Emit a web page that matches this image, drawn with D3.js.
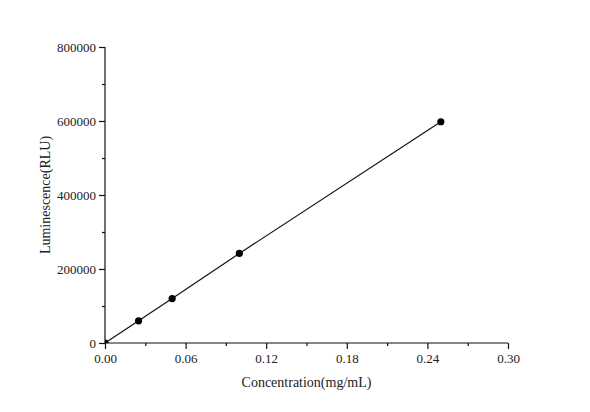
<!DOCTYPE html>
<html>
<head>
<meta charset="utf-8">
<script src="https://cdn.jsdelivr.net/npm/d3@7"></script>
<style>
  body { margin:0; background:#fff; }
  svg text { font-family:"Liberation Serif","Times New Roman",serif; fill:#222; }
</style>
</head>
<body>
<div id="chart"></div>
<script>
// standard curve data
var concentration = [0, 0.025, 0.05, 0.1, 0.25]
var luminescence = [0, 60000, 120000, 242000, 598000]
var xTicks = [0, 0.06, 0.12, 0.18, 0.24, 0.30]
var yTicks = [0, 200000, 400000, 600000, 800000]

var width = 590, height = 412
var margin = {top:47, right:82, bottom:69, left:105}

var svg = d3.select('#chart').append('svg')
	.attr('width', width).attr('height', height)

var x = d3.scaleLinear().domain([0, 0.30]).range([margin.left, width - margin.right])
var y = d3.scaleLinear().domain([0, 800000]).range([height - margin.bottom, margin.top])

var points = concentration.map(function(d, i) { return {x:d, y:luminescence[i]} })

// minor ticks, half way between the majors
var xMinor = d3.range(0.03, 0.30, 0.06)
var yMinor = d3.range(100000, 800000, 200000)

var xAxis = svg.append('g').attr('transform', 'translate(0,' + y(0) + ')')
	.call(d3.axisBottom(x).tickValues(xTicks).tickSize(6).tickPadding(5)
		.tickFormat(d3.format('.2f')))
var yAxis = svg.append('g').attr('transform', 'translate(' + x(0) + ',0)')
	.call(d3.axisLeft(y).tickValues(yTicks).tickSize(6).tickPadding(3)
		.tickFormat(d3.format('d')))

svg.append('g').attr('transform', 'translate(0,' + y(0) + ')')
	.call(d3.axisBottom(x).tickValues(xMinor).tickSize(3).tickFormat(''))
	.select('.domain').remove()
svg.append('g').attr('transform', 'translate(' + x(0) + ',0)')
	.call(d3.axisLeft(y).tickValues(yMinor).tickSize(3).tickFormat(''))
	.select('.domain').remove()

svg.selectAll('.domain').attr('stroke', '#111').attr('stroke-width', 1.2)
svg.selectAll('.tick line').attr('stroke', '#111').attr('stroke-width', 1.2)
svg.selectAll('.tick text').style('font-size', '13px')
xAxis.selectAll('.domain').attr('d', 'M' + x(0) + ',0H' + x(0.30))
yAxis.selectAll('.domain').attr('d', 'M0,' + y(0) + 'V' + y(800000))

svg.append('defs').append('clipPath').attr('id', 'plot')
	.append('rect').attr('x', x(0)).attr('y', y(800000))
	.attr('width', x(0.30) - x(0)).attr('height', y(0) - y(800000))

var line = d3.line().x(function(d) { return x(d.x) }).y(function(d) { return y(d.y) })
svg.append('path').datum(points).attr('d', line)
	.attr('fill', 'none').attr('stroke', '#111').attr('stroke-width', 1.2)

svg.append('g').attr('clip-path', 'url(#plot)').selectAll('circle').data(points)
	.enter().append('circle')
	.attr('cx', function(d) { return x(d.x) })
	.attr('cy', function(d) { return y(d.y) })
	.attr('r', 3.6).attr('fill', '#000')

svg.append('text').attr('x', (x(0) + x(0.30)) / 2).attr('y', 387)
	.attr('text-anchor', 'middle').style('font-size', '14px')
	.text('Concentration(mg/mL)')
svg.append('text').attr('transform', 'translate(50,' + y(400000) + ') rotate(-90)')
	.attr('text-anchor', 'middle').style('font-size', '14px')
	.text('Luminescence(RLU)')
</script>
</body>
</html>
